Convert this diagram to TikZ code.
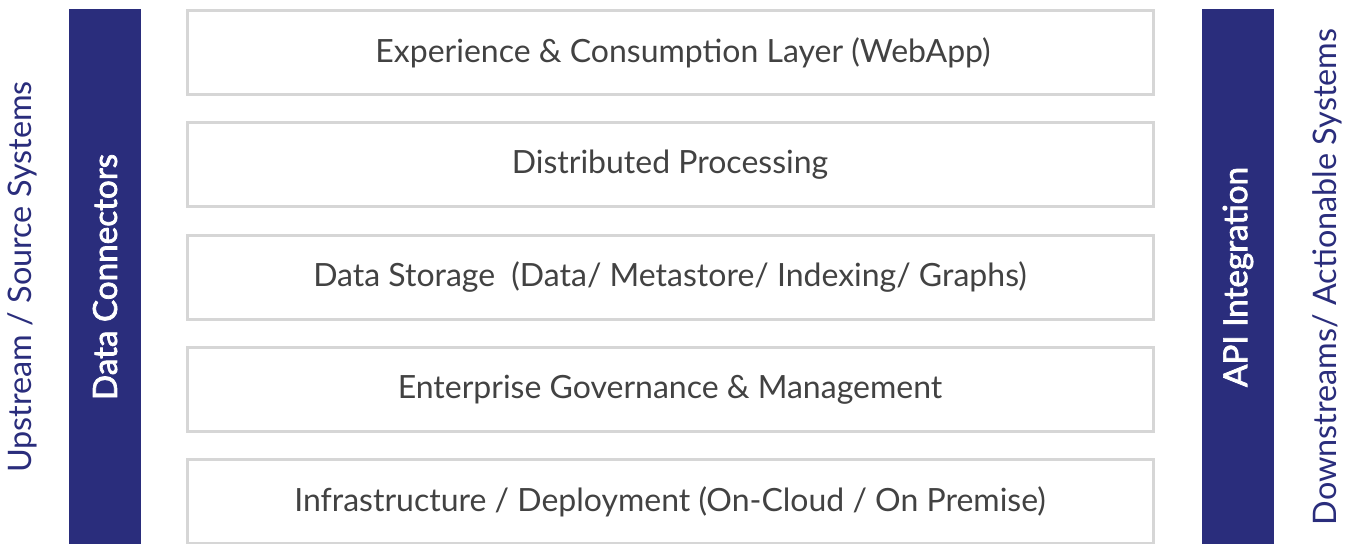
\documentclass[tikz,border=0pt]{standalone}
\usepackage{fontspec}
\setmainfont{Lato}
\newfontfamily\barfont{Lato}[FakeBold=2.2]
\usepackage{tikz,xcolor}
\usetikzlibrary{positioning}
\definecolor{navy}{RGB}{42, 45, 124}
\definecolor{layergray}{RGB}{214, 214, 214}
\definecolor{textgray}{RGB}{66, 66, 66}

\begin{document}
\begin{tikzpicture}[x=0.5pt, y=-0.5pt,
	layer/.style={draw=layergray, line width=1.5pt, fill=white, minimum width=483pt, minimum height=42pt, inner sep=0pt, text=textgray, font=\fontsize{16}{19}\selectfont},
	bar/.style={fill=navy, draw=none, minimum width=36pt, minimum height=276pt, inner sep=0pt},
	barlabel/.style={rotate=90, text=white, font=\barfont\fontsize{16.6}{19}\selectfont},
	side/.style={rotate=90, text=navy, font=\fontsize{16.2}{19}\selectfont, inner sep=0pt}]
				\clip (0,0) rectangle (1354,543);
				\fill[white] (0,0) rectangle (1354,543);
				
				% layers
				\foreach \i/\dx/\name/\txt in {0/13/exp/{Experience \& Consumption Layer (WebApp)},
					1/0/proc/{Distributed Processing},
					2/0/stor/{Data Storage\hspace{0.25em} (Data/ Metastore/ Indexing/ Graphs)},
					3/0/gov/{Enterprise Governance \& Management},
					4/0/infra/{Infrastructure / Deployment (On-Cloud / On Premise)}}{
					\node[layer] (\name) at (670, 52.5+112.3*\i) {\hspace*{\dx pt}\txt};
				}
				
				% side bars
				\node[bar] (conn) at (105,285) {};
				\node[bar] (api) at (1238,285) {};
				\node[barlabel] (connlabel) at (105,277) {Data Connectors};
				\node[barlabel] (apilabel) at (1238,277) {API Integration};
				
				\node[side] (up) at (22,277) {Upstream / Source Systems};
				\node[side] (down) at (1327,277) {Downstreams/ Actionable Systems};
			\end{tikzpicture}
\end{document}
